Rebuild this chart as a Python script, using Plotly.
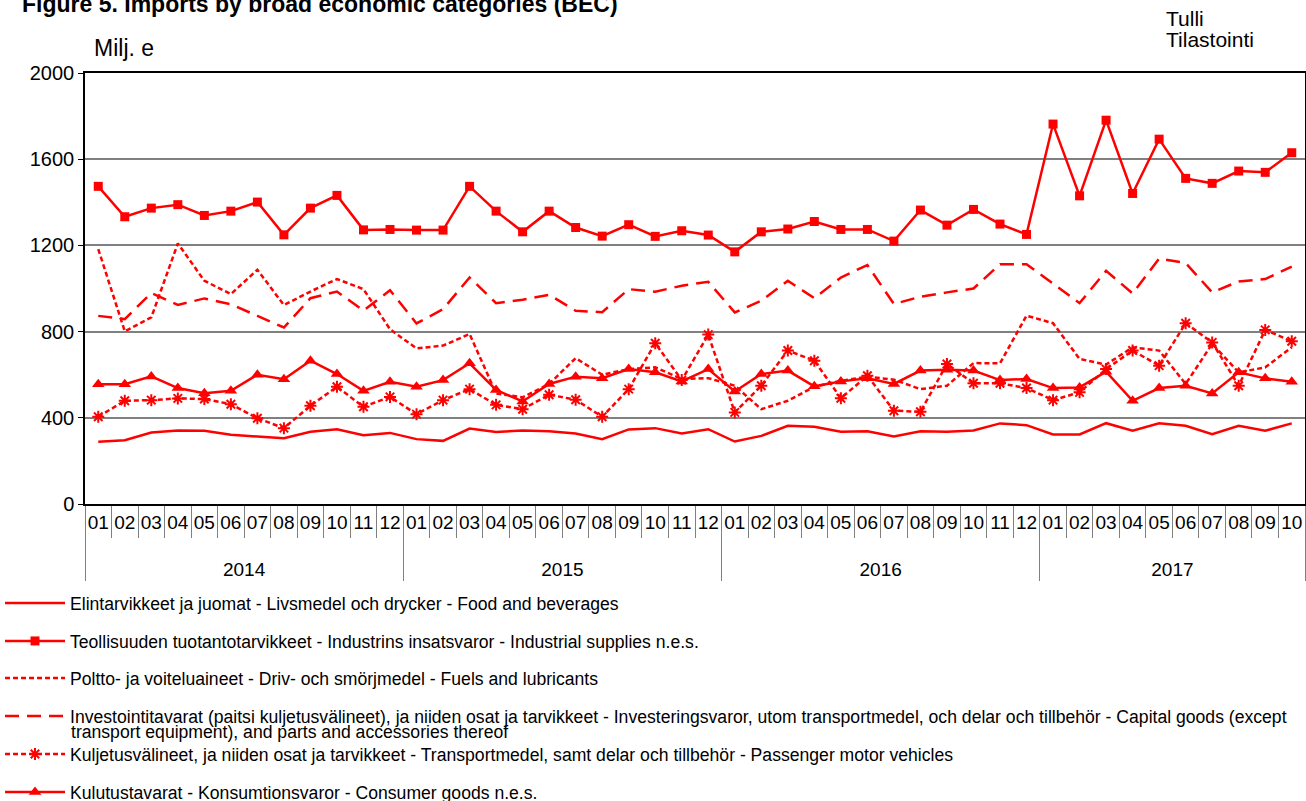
import plotly.graph_objects as go

years = ["2014"] * 12 + ["2015"] * 12 + ["2016"] * 12 + ["2017"] * 10
months = [f"{m:02d}" for m in range(1, 13)] * 3 + [f"{m:02d}" for m in range(1, 11)]

food = [289, 296, 332, 341, 340, 321, 313, 305, 335, 347, 319, 330,
        301, 293, 350, 334, 341, 338, 327, 301, 346, 352, 327, 347,
        290, 316, 363, 358, 335, 338, 313, 338, 335, 341, 374, 366,
        323, 323, 375, 340, 375, 363, 324, 363, 340, 374]

industrial = [1474, 1333, 1373, 1389, 1339, 1359, 1401, 1249, 1373, 1432, 1272, 1274,
              1271, 1271, 1474, 1359, 1263, 1359, 1283, 1243, 1296, 1242, 1268, 1248,
              1170, 1263, 1276, 1311, 1274, 1274, 1220, 1364, 1294, 1367, 1299, 1251,
              1763, 1430, 1781, 1441, 1693, 1511, 1488, 1545, 1539, 1630]

fuels = [1183, 801, 866, 1209, 1036, 974, 1087, 923, 986, 1044, 997, 811,
         722, 735, 789, 513, 495, 557, 677, 600, 626, 634, 580, 584,
         549, 440, 479, 544, 572, 591, 577, 533, 549, 654, 653, 874,
         839, 673, 647, 727, 712, 557, 743, 611, 634, 727]

capital = [873, 858, 979, 924, 954, 927, 873, 819, 955, 986, 897, 992,
           838, 904, 1051, 932, 948, 971, 897, 890, 997, 985, 1013, 1031,
           889, 943, 1036, 955, 1051, 1109, 928, 962, 982, 1000, 1113, 1113,
           1023, 932, 1082, 977, 1139, 1118, 982, 1033, 1044, 1102]

passenger = [405, 479, 482, 490, 487, 463, 398, 352, 456, 544, 451, 497,
             417, 482, 533, 460, 440, 507, 484, 405, 533, 746, 575, 786,
             425, 549, 712, 665, 491, 595, 433, 428, 650, 560, 560, 538,
             482, 518, 626, 712, 642, 839, 750, 549, 808, 755]

consumer = [556, 556, 592, 538, 514, 525, 600, 579, 665, 603, 525, 567,
            544, 575, 653, 529, 476, 557, 591, 584, 626, 611, 569, 626,
            522, 603, 619, 546, 569, 583, 557, 619, 623, 619, 575, 580,
            538, 541, 614, 479, 538, 549, 513, 611, 583, 567]

names = [
    "Elintarvikkeet ja juomat - Livsmedel och drycker - Food and beverages",
    "Teollisuuden tuotantotarvikkeet - Industrins insatsvaror - Industrial supplies n.e.s.",
    "Poltto- ja voiteluaineet - Driv- och smörjmedel - Fuels and lubricants",
    "Investointitavarat (paitsi kuljetusvälineet), ja niiden osat ja tarvikkeet - Investeringsvaror, utom transportmedel, och delar och tillbehör - Capital goods (except",
    "Kuljetusvälineet, ja niiden osat ja tarvikkeet - Transportmedel, samt delar och tillbehör - Passenger motor vehicles",
    "Kulutustavarat - Konsumtionsvaror - Consumer goods n.e.s.",
]
# wrapped continuation of the 4th legend entry (tight line spacing, as in the reference)
name4_cont = "transport equipment), and parts and accessories thereof"

RED = "#FF0000"
FONT = "Liberation Sans, Arial, sans-serif"
LEG_SIZE = 17.6
W, H = 1306, 801
ML, MR, MT, MB = 85, 1, 73, 297
PW, PH = W - ML - MR, H - MT - MB


def px_x(p):
    return (p - ML) / PW


def px_y(p):
    return (MT + PH - p) / PH


# month labels get an invisible second line so the year row sits lower, as in the reference
month_labels = [m + '<br><span style="color:rgba(0,0,0,0)">0</span>' for m in months]
x = [years, month_labels]

series = [
    (food, names[0], dict(dash="solid"), None),
    (industrial, names[1], dict(dash="solid"), dict(symbol="square", size=9, color=RED)),
    (fuels, names[2], dict(dash="5px,3px"), None),
    (capital, names[3], dict(dash="14px,8px"), None),
    (passenger, names[4], dict(dash="5px,3px"),
     dict(symbol="asterisk-open", size=10, color=RED, line=dict(color=RED, width=2))),
    (consumer, names[5], dict(dash="solid"), dict(symbol="triangle-up", size=11, color=RED)),
]

legend_centers = [602, 640, 677, 715, 753, 791]

fig = go.Figure()
for i, (vals, name, dash, marker) in enumerate(series):
    lg = "legend" if i == 0 else f"legend{i + 1}"
    tr = go.Scatter(
        x=x, y=vals, name=name,
        mode="lines+markers" if marker else "lines",
        line=dict(color=RED, width=2.5, **dash),
        legend=lg,
    )
    if marker:
        tr.marker = marker
    fig.add_trace(tr)

layout_legends = {}
for i, cy in enumerate(legend_centers):
    key = "legend" if i == 0 else f"legend{i + 1}"
    layout_legends[key] = dict(
        x=px_x(0), xanchor="left",
        y=px_y(cy - 17), yanchor="top",
        bgcolor="rgba(0,0,0,0)", borderwidth=0,
        font=dict(family=FONT, size=LEG_SIZE, color="#000"),
        itemwidth=60,
    )

fig.update_layout(
    width=W, height=H,
    margin=dict(l=ML, r=MR, t=MT, b=MB, autoexpand=False),
    paper_bgcolor="white", plot_bgcolor="white",
    font=dict(family=FONT, color="#000"),
    showlegend=True,
    **layout_legends,
    xaxis=dict(
        type="multicategory",
        range=[-0.5, len(months) - 0.5],
        showline=True, linecolor="#000", linewidth=1.5, mirror=True,
        ticks="outside", tickson="boundaries", ticklen=32, tickcolor="#808080",
        showdividers=True, dividercolor="#808080", dividerwidth=1,
        tickfont=dict(size=19, color="#000"), tickangle=0,
        showgrid=False,
    ),
    yaxis=dict(
        range=[0, 2000], dtick=400, tick0=0,
        showline=True, linecolor="#000", linewidth=1.5, mirror=True,
        ticks="outside", ticklen=5, tickcolor="#000",
        gridcolor="#808080", gridwidth=1.5,
        tickfont=dict(size=20, color="#000"),
        zeroline=False,
    ),
)

fig.add_annotation(text=name4_cont, xref="paper", yref="paper",
                   x=px_x(69), y=px_y(732), xanchor="left", yanchor="middle",
                   showarrow=False, font=dict(family=FONT, size=LEG_SIZE, color="#000"))
fig.add_annotation(text="Milj. e", xref="paper", yref="paper",
                   x=px_x(92), y=px_y(48), xanchor="left", yanchor="middle",
                   showarrow=False, font=dict(size=23, color="#000"))
fig.add_annotation(text="Tulli", xref="paper", yref="paper",
                   x=px_x(1164), y=px_y(18), xanchor="left", yanchor="middle",
                   showarrow=False, font=dict(size=21, color="#000"))
fig.add_annotation(text="Tilastointi", xref="paper", yref="paper",
                   x=px_x(1164), y=px_y(39), xanchor="left", yanchor="middle",
                   showarrow=False, font=dict(size=21, color="#000"))
fig.add_annotation(text="<b>Figure 5. Imports by broad economic categories (BEC)</b>", xref="paper", yref="paper",
                   x=px_x(20), y=px_y(4), xanchor="left", yanchor="middle",
                   showarrow=False, font=dict(size=23, color="#000"))

fig.write_html("out.html", config={"displayModeBar": False},
               post_script="document.body.style.margin='0';")
